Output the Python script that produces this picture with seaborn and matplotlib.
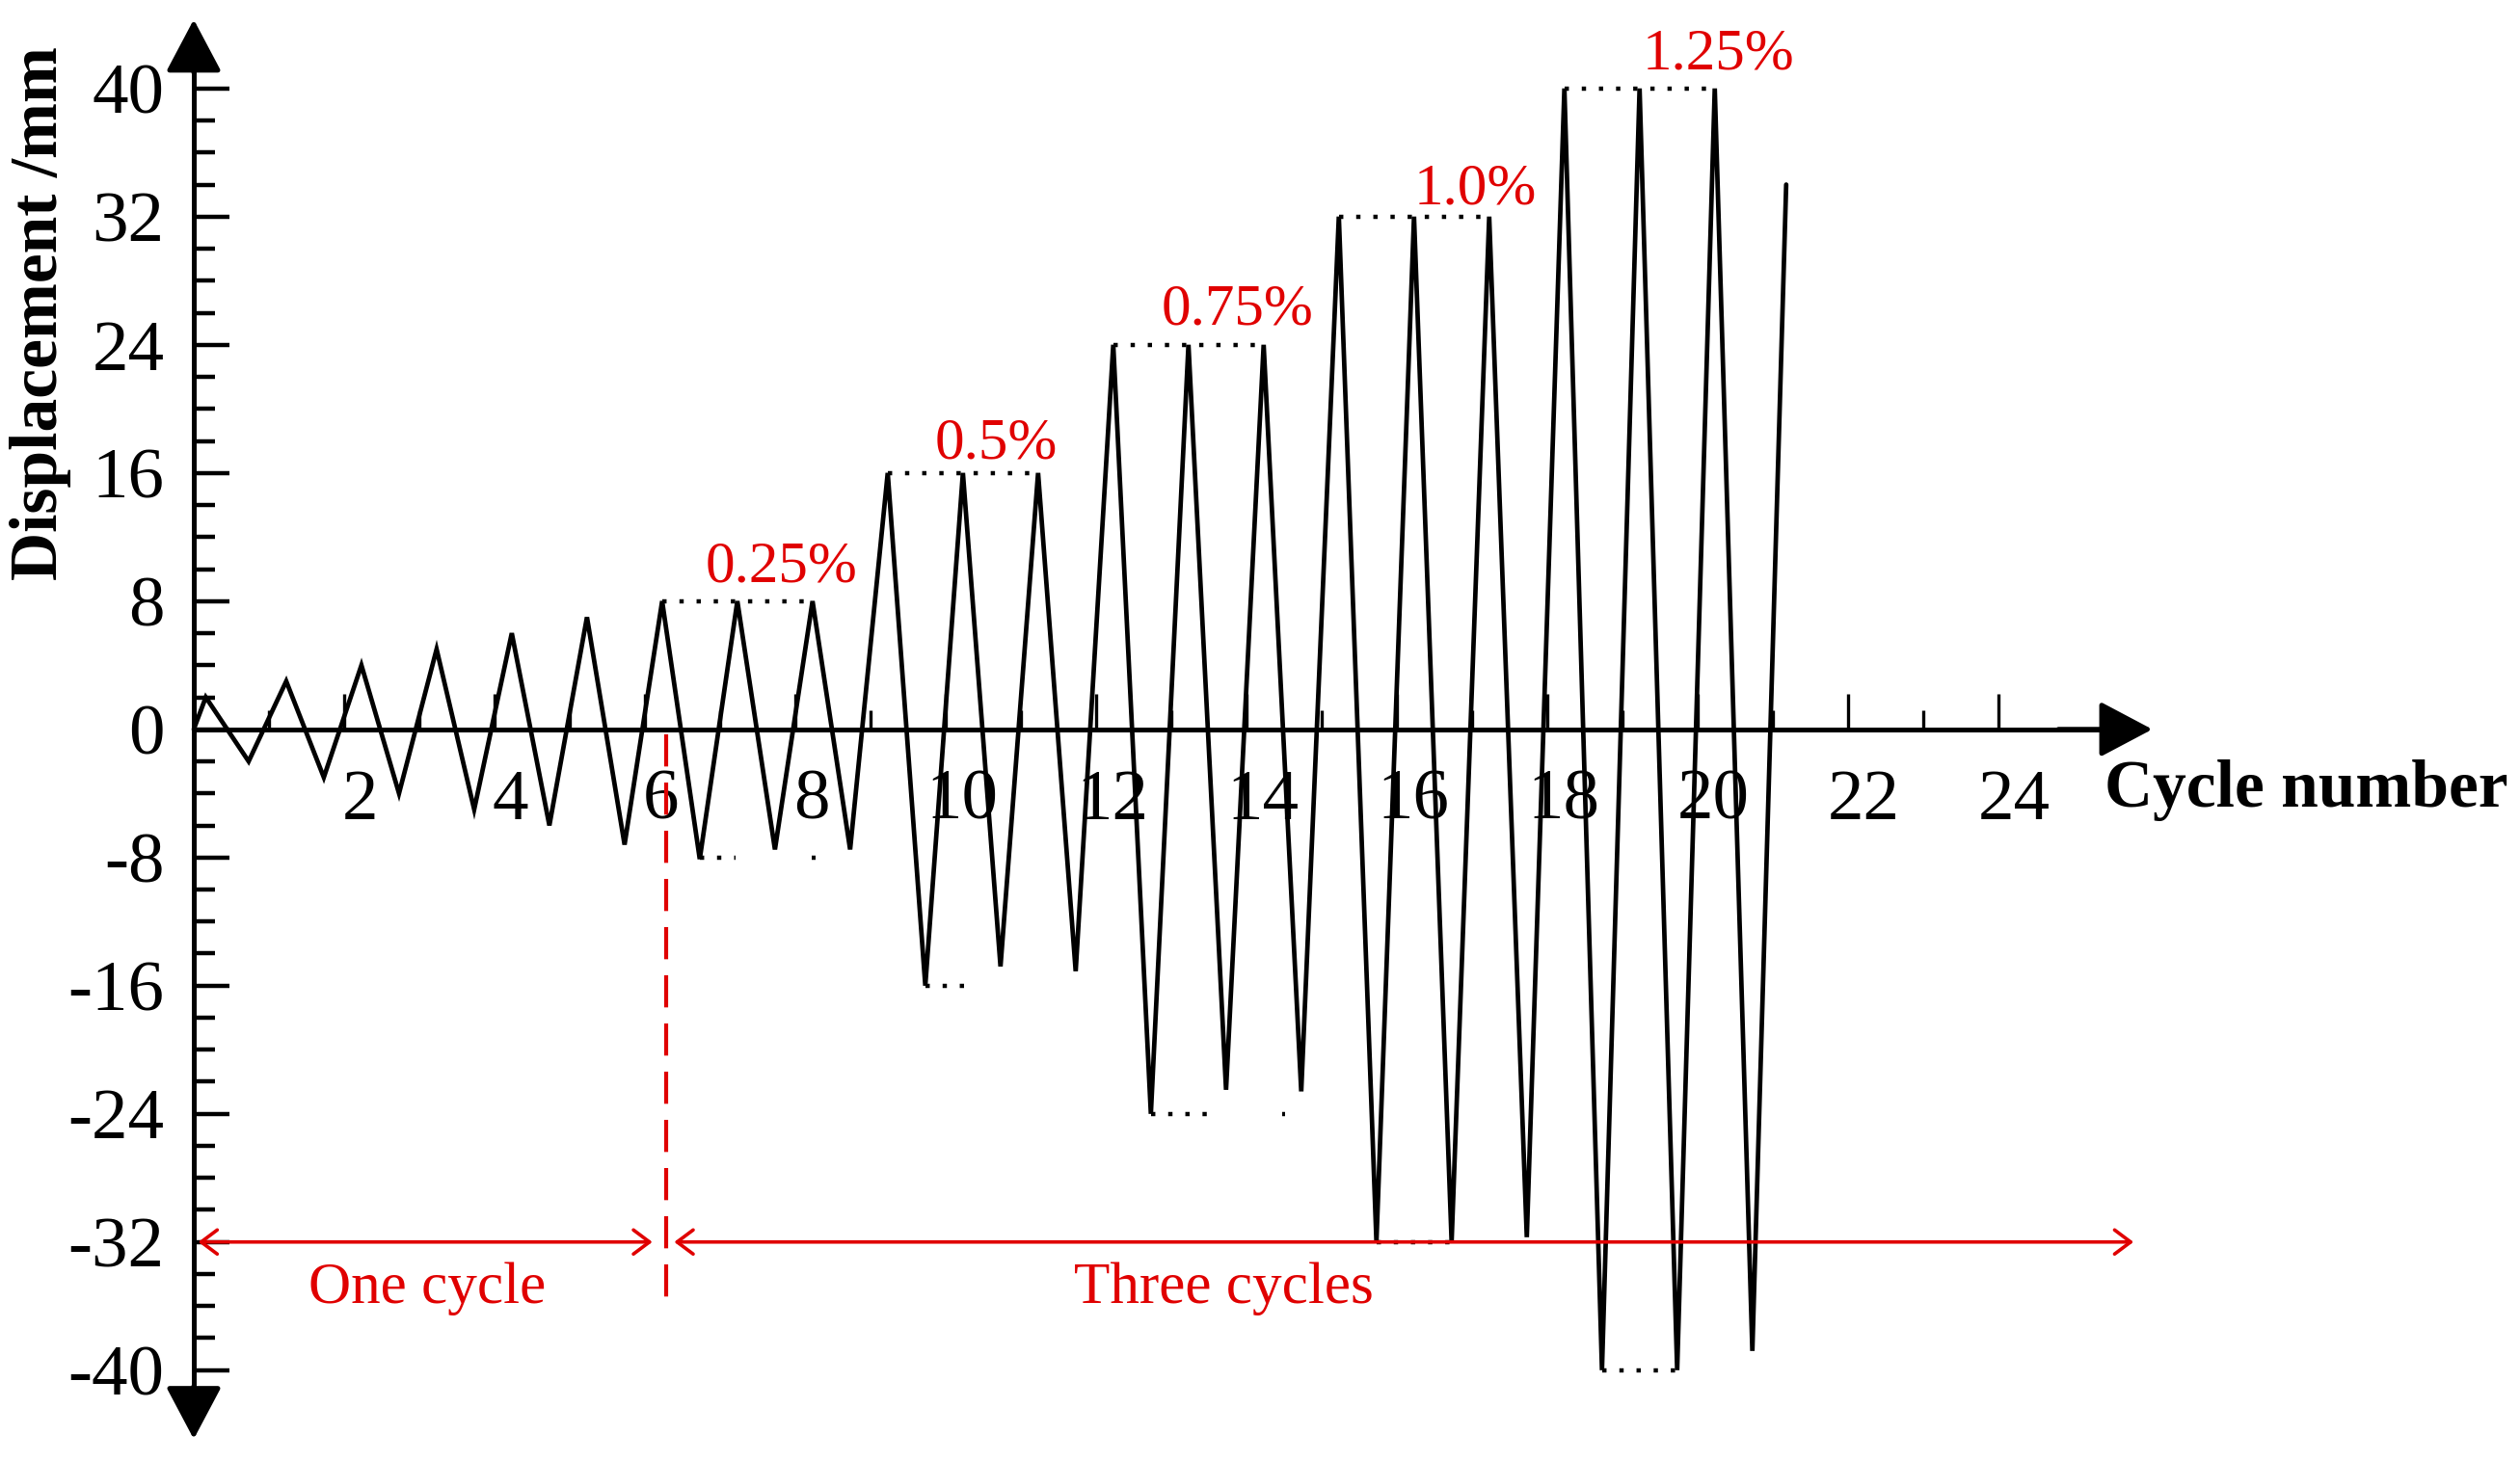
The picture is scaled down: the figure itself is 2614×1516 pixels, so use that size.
import numpy as np
import pandas as pd
import matplotlib
matplotlib.use("Agg")
import matplotlib.pyplot as plt
import matplotlib.transforms as mtransforms
import seaborn as sns

# ---------------- data ----------------
start_x, start_val = 0.0, 0.0
peak_x = [0.16, 1.23, 2.23, 3.23, 4.23, 5.23, 6.23, 7.23, 8.23, 9.23, 10.23,
          11.23, 12.23, 13.23, 14.23, 15.23, 16.23, 17.23, 18.23, 19.23, 20.23]
peak_val = [2, 3, 4, 5, 6, 7, 8, 8, 8, 16, 16, 16, 24, 24, 24, 32, 32, 32, 40, 40, 40]
trough_x = [0.73, 1.73, 2.73, 3.73, 4.73, 5.73, 6.73, 7.73, 8.73, 9.73, 10.73,
            11.73, 12.73, 13.73, 14.73, 15.73, 16.73, 17.73, 18.73, 19.73, 20.73]
trough_val = [-2, -3, -4, -5, -6, -7.2, -8.1, -7.5, -7.5, -16, -14.8, -15.1,
              -24, -22.5, -22.6, -32, -32, -31.7, -40, -40, -38.8]
end_x, end_val = 21.18, 34.0

# dotted amplitude guides: (x_start, x_end, level)
guide_start = [6.23, 9.23, 12.23, 15.23, 18.23, 6.73, 8.22, 9.73, 12.73, 14.47, 15.73, 18.73]
guide_end = [8.23, 11.23, 14.23, 17.23, 20.23, 7.20, 8.27, 10.40, 13.62, 14.52, 16.73, 19.78]
guide_level = [8, 16, 24, 32, 40, -8, -8, -16, -24, -24, -32, -40]

drift_labels = ["0.25%", "0.5%", "0.75%", "1.0%", "1.25%"]
drift_label_x = [7.81, 10.67, 13.88, 17.05, 20.28]
drift_label_y = [9.2, 16.9, 25.3, 32.8, 41.2]

ytick_vals = [40, 32, 24, 16, 8, 0, -8, -16, -24, -32, -40]
ytick_labels = ["40", "32", "24", "16", "8", "0", "-8", "-16", "-24", "-32", "-40"]
yminor_vals = [v for v in range(-40, 41, 2) if v % 8 != 0]
xtick_vals = [2, 4, 6, 8, 10, 12, 14, 16, 18, 20, 22, 24]
xtick_labels = ["2", "4", "6", "8", "10", "12", "14", "16", "18", "20", "22", "24"]
xminor_vals = [1, 3, 5, 7, 9, 11, 13, 15, 17, 19, 21, 23]

# build the waveform table
xs = [start_x]
ys = [start_val]
for px, pv, tx, tv in zip(peak_x, peak_val, trough_x, trough_val):
    xs += [px, tx]
    ys += [pv, tv]
xs.append(end_x)
ys.append(end_val)
df = pd.DataFrame({"cycle": xs, "disp": ys})

# ---------------- style ----------------
sns.set_theme(style="white")
plt.rcParams["font.family"] = ["Liberation Serif", "DejaVu Serif"]
plt.rcParams["axes.unicode_minus"] = False

RED = "#E00000"

fig = plt.figure(figsize=(13.07, 7.58), dpi=200)
ax = fig.add_axes([0, 0, 1, 1])
ax.set_facecolor("white")

sns.lineplot(data=df, x="cycle", y="disp", sort=False, estimator=None,
             color="black", lw=1.7, ax=ax)
for ln in ax.lines:
    ln.set_solid_joinstyle("miter")

# dotted guides
for x0, x1, lv in zip(guide_start, guide_end, guide_level):
    ax.plot([x0, x1], [lv, lv], color="black", lw=1.6,
            linestyle=(0, (1, 3.0)), dash_capstyle="butt")

# limits mapping the reference frame
ax.set_xlim(-2.577, 30.94)
ax.set_ylim(-45.67, 45.52)

# spines through origin
for s in ["top", "right"]:
    ax.spines[s].set_visible(False)
ax.spines["left"].set_position(("data", 0))
ax.spines["bottom"].set_position(("data", 0))
ax.spines["left"].set_bounds(-43, 43)
ax.spines["bottom"].set_bounds(0, 25.5)
for s in ["left", "bottom"]:
    ax.spines[s].set_linewidth(1.8)
    ax.spines[s].set_color("black")

ax.set_yticks(ytick_vals, ytick_labels)
ax.set_yticks(yminor_vals, minor=True)
ax.set_xticks(xtick_vals, xtick_labels)
ax.set_xticks(xminor_vals, minor=True)

ax.tick_params(axis="y", which="major", direction="in", length=13.3, width=1.6,
               pad=11, labelsize=27, colors="black", left=True)
ax.tick_params(axis="y", which="minor", direction="in", length=7.9, width=1.6,
               colors="black", left=True)
ax.tick_params(axis="x", which="major", direction="in", length=13.3, width=1.2,
               pad=15, labelsize=27, colors="black", bottom=True)
ax.tick_params(axis="x", which="minor", direction="in", length=7.2, width=1.2,
               colors="black", bottom=True)

offset = mtransforms.ScaledTranslation(6 / 72, 0, fig.dpi_scale_trans)
for lbl in ax.get_xticklabels():
    lbl.set_transform(lbl.get_transform() + offset)

ax.set_xlabel("")
ax.set_ylabel("")

# axis arrowheads
head = dict(arrowstyle="-|>,head_length=0.85,head_width=0.45", mutation_scale=20,
            lw=1.8, color="black", shrinkA=0, shrinkB=0)
ax.annotate("", xy=(0, 44.3), xytext=(0, 41), arrowprops=head)
ax.annotate("", xy=(0, -44.3), xytext=(0, -41), arrowprops=head)
ax.annotate("", xy=(26.05, 0), xytext=(24.8, 0), arrowprops=head)

# axis titles
ax.text(-2.04, 26, "Displacement /mm", rotation=90, ha="center", va="center",
        fontsize=25, fontweight="bold", color="black")
ax.text(28.1, -4.83, "Cycle number", ha="center", va="baseline",
        fontsize=25, fontweight="bold", color="black")

# drift labels
for t, x, y in zip(drift_labels, drift_label_x, drift_label_y):
    ax.text(x, y, t, ha="center", va="baseline", fontsize=22, color=RED)

# red dimension annotation
dim = dict(arrowstyle="<->,head_length=0.6,head_width=0.45", mutation_scale=10,
           lw=1.3, color=RED, shrinkA=0, shrinkB=0)
ax.annotate("", xy=(0.06, -32), xytext=(6.10, -32), arrowprops=dim)
ax.annotate("", xy=(6.39, -32), xytext=(25.8, -32), arrowprops=dim)
ax.plot([6.28, 6.28], [-0.3, -35.6], color=RED, lw=1.5, dashes=(8, 4))
ax.text(3.1, -35.8, "One cycle", ha="center", va="baseline", fontsize=22, color=RED)
ax.text(13.7, -35.8, "Three cycles", ha="center", va="baseline", fontsize=22, color=RED)

fig.savefig("out.png", dpi=200, facecolor="white")
